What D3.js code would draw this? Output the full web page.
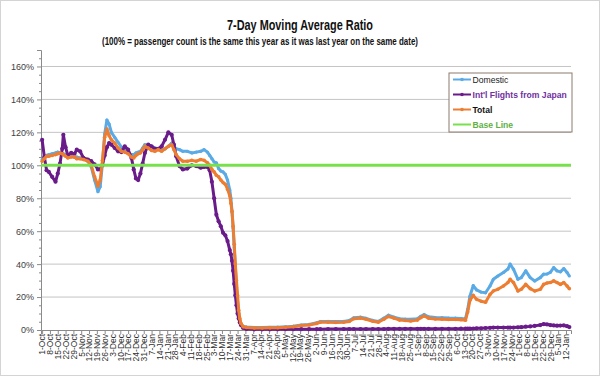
<!DOCTYPE html>
<html>
<head>
<meta charset="utf-8">
<script src="https://cdn.jsdelivr.net/npm/d3@7"></script>
<style>
  body { margin: 0; background: #fff; }
  svg { display: block; font-family: "Liberation Sans", Arial, sans-serif; }
</style>
</head>
<body>
<svg id="chart" width="600" height="376"></svg>
<script>
// sample dates (denser where the curves move a lot)
const dates = [
  "2019-10-01","2019-10-03","2019-10-05","2019-10-07","2019-10-10","2019-10-13","2019-10-15","2019-10-17","2019-10-19","2019-10-20",
  "2019-10-22","2019-10-24","2019-10-27","2019-10-30","2019-11-01","2019-11-04","2019-11-07","2019-11-11","2019-11-14","2019-11-17",
  "2019-11-20","2019-11-22","2019-11-24","2019-11-26","2019-11-28","2019-11-30","2019-12-02","2019-12-05","2019-12-08","2019-12-11",
  "2019-12-14","2019-12-17","2019-12-20","2019-12-22","2019-12-24","2019-12-26","2019-12-28","2019-12-30","2020-01-01","2020-01-04",
  "2020-01-07","2020-01-10","2020-01-13","2020-01-16","2020-01-19","2020-01-22","2020-01-25","2020-01-27","2020-01-29","2020-02-01",
  "2020-02-04","2020-02-08","2020-02-12","2020-02-16","2020-02-20","2020-02-23","2020-02-26","2020-02-28","2020-03-01","2020-03-03",
  "2020-03-05","2020-03-07","2020-03-09","2020-03-11","2020-03-13","2020-03-15","2020-03-17","2020-03-18","2020-03-19","2020-03-20",
  "2020-03-21","2020-03-22","2020-03-23","2020-03-24","2020-03-25","2020-03-26","2020-03-27","2020-03-29","2020-04-01","2020-04-08",
  "2020-04-15","2020-04-22","2020-04-29","2020-05-06","2020-05-13","2020-05-20","2020-05-27","2020-06-03","2020-06-06","2020-06-13",
  "2020-06-20","2020-06-27","2020-07-02","2020-07-06","2020-07-12","2020-07-17","2020-07-23","2020-07-28","2020-08-02","2020-08-06",
  "2020-08-11","2020-08-16","2020-08-21","2020-08-26","2020-09-01","2020-09-04","2020-09-07","2020-09-11","2020-09-17","2020-09-23",
  "2020-09-29","2020-10-05","2020-10-10","2020-10-14","2020-10-16","2020-10-18","2020-10-21","2020-10-24","2020-10-28","2020-11-01",
  "2020-11-05","2020-11-08","2020-11-12","2020-11-17","2020-11-21","2020-11-23","2020-11-26","2020-11-30","2020-12-03","2020-12-07",
  "2020-12-11","2020-12-15","2020-12-20","2020-12-23","2020-12-26","2020-12-29","2021-01-01","2021-01-04","2021-01-07","2021-01-10",
  "2021-01-13","2021-01-15"
];

const domestic = [
  103.5,105,106,106.5,107,107.5,108,107.5,107,107,
  106.5,106,105.5,105,105,104.5,104,102.5,99,91,
  84,87,101,119,127.5,125,120,117,114,111,
  109.5,107.5,106.5,106.5,107.5,108,108.5,110.5,112.5,112,
  111.5,110.5,110,109.5,110,111.5,113.5,111.5,110,109.5,
  108.5,108.5,107.5,108,108.5,109.5,108,106,104,102,
  101.5,98,96.5,96,94.5,91,85,80,72,62,
  50,38,26,17,10,6,3.5,2.2,1.8,1.5,
  1.5,1.6,1.7,1.9,2.3,3,3.4,4.4,5.1,5.2,
  5.1,5.2,5.8,7.4,7.8,7.1,5.8,5.2,7.2,9,
  7.8,6.8,6.6,6.5,6.8,8.3,9.4,8,7.6,7.5,
  7.3,7.2,7,6.7,12.5,20.5,27,24.3,23,22.6,
  26.7,30.8,32.8,34.9,37,40,36.9,30.8,31.8,35.9,
  31.8,29.8,31.8,33.9,34,35,37.9,35.9,35.3,37.3,
  34.9,32.8
];

const intl = [
  115.5,105,97,96,93,90,95,101,110,118.5,
  111,106,107.5,107,109.5,108.5,104.5,103.5,102.5,100.5,
  97.5,97.5,100,106,111,113.5,112.5,110.5,108.5,108,
  111.5,109.5,104.5,97.5,92,91,95,101,107.5,112.5,
  111.5,110,110,111.5,115.5,120,118.5,112.5,105.5,99.5,
  97.5,98,100,99.5,98.5,99,99,97,90,80,
  70,66,63,59,57.5,54,48.5,46,42,36,
  28,21,15,10,7,4.5,3,1.2,0.6,0.4,
  0.4,0.4,0.4,0.5,0.5,0.5,0.5,0.5,0.5,0.6,
  0.6,0.6,0.6,0.6,0.6,0.6,0.6,0.6,0.6,0.7,
  0.7,0.7,0.7,0.7,0.7,0.7,0.7,0.7,0.7,0.7,
  0.7,0.7,0.8,0.8,0.8,0.8,0.9,1,1,1.2,
  1.3,1.5,1.5,1.5,1.5,1.5,1.5,1.6,1.7,2,
  2.2,2.5,3,3.6,3.4,3,2.8,2.6,2.7,2.8,
  2.3,1.8
];

const total = [
  102.4,104,105.5,105.5,106,106.5,107,107.5,107,106.5,
  105.5,104.5,105,105,104,104,103.5,102.5,100,93,
  87.5,91,103,117,122,118,115.5,113.5,110.5,108.5,
  108,107,105,104.5,106,107,107.5,109.5,111.5,110.5,
  109,108.5,109.5,108.5,110,111.5,112.5,109.5,106.5,104,
  102.5,102.5,103,102.5,103.5,103,101.5,100,97.5,96,
  94,93,91,89.5,88.5,85.5,81.5,77,72,63,
  52,40,30,21,12,7,4,2,1.5,1.2,
  1.2,1.3,1.4,1.6,2,2.7,3,4,4.7,4.7,
  4.6,4.7,5.2,6.8,7.2,6.5,5.3,4.7,6.5,8.2,
  7.2,6,5.8,5.5,6,7.5,8.5,7.2,6.7,6.6,
  6.4,6.4,6.2,5.9,11,18,21,18.6,17.5,16.9,
  21.6,23.7,24.7,26.7,28.8,30.8,28.8,23.7,24.7,27.7,
  25.1,23.7,24.7,27.7,28.5,28.8,29.8,28.8,27.7,28.8,
  26.7,25.1
];

const baseLine = 100;
const yTicks = [0, 20, 40, 60, 80, 100, 120, 140, 160];
const seriesNames = ["Domestic", "Int'l Flights from Japan", "Total", "Base Line"];
const seriesColors = ["#5aaae6", "#6a1b8a", "#ed7d31", "#77e14c"];
const legendTextColors = ["#1a1a1a", "#7030a0", "#111", "#5fb043"];

const svg = d3.select("#chart");
const parse = d3.timeParse("%Y-%m-%d");
const xDates = dates.map(parse);

// outer frame
svg.append("rect")
  .attr("x", 0.5).attr("y", 0.5)
  .attr("width", 599).attr("height", 375)
  .attr("fill", "#fff")
  .attr("stroke", "#d4d4d4");

const x = d3.scaleTime()
  .domain([new Date(2019, 8, 30), new Date(2021, 0, 16, 12)])
  .range([41, 571]);

const y = d3.scaleLinear()
  .domain([0, 170])
  .range([330, 50]);

// titles
svg.append("text")
  .attr("x", 300).attr("y", 30)
  .attr("text-anchor", "middle")
  .attr("font-size", 14).attr("font-weight", "bold")
  .attr("fill", "#111")
  .attr("textLength", 146).attr("lengthAdjust", "spacingAndGlyphs")
  .text("7-Day Moving Average Ratio");

svg.append("text")
  .attr("x", 260).attr("y", 45)
  .attr("text-anchor", "middle")
  .attr("font-size", 10).attr("font-weight", "bold")
  .attr("fill", "#111")
  .attr("textLength", 316).attr("lengthAdjust", "spacingAndGlyphs")
  .text("(100% = passenger count  is the same this year as it was last year on the same date)");

// gridlines
svg.append("g")
  .selectAll("line")
  .data(yTicks.filter(d => d > 0))
  .join("line")
  .attr("x1", 41).attr("x2", 571)
  .attr("y1", d => y(d)).attr("y2", d => y(d))
  .attr("stroke", "#c4c4c4")
  .attr("stroke-width", 1);

// y axis
const yAxis = svg.append("g")
  .attr("transform", "translate(41,0)")
  .call(d3.axisLeft(y).tickValues(yTicks).tickSize(4).tickFormat(d => d + "%"));
yAxis.select(".domain").attr("stroke", "#8a8a8a");
yAxis.selectAll(".tick line").attr("stroke", "#8a8a8a");
yAxis.selectAll("text").attr("font-size", 9).attr("fill", "#404040").attr("x", -7);

const yMinor = svg.append("g")
  .attr("transform", "translate(41,0)")
  .call(d3.axisLeft(y).tickValues(d3.range(5, 171, 5).filter(d => d % 20 !== 0)).tickSize(2).tickFormat(""));
yMinor.select(".domain").remove();
yMinor.selectAll(".tick line").attr("stroke", "#8a8a8a");

// x axis with weekly tick labels
const weekTicks = d3.timeTuesday.range(new Date(2019, 9, 1), new Date(2021, 0, 13));
const xAxis = svg.append("g")
  .attr("transform", "translate(0,330)")
  .call(d3.axisBottom(x).tickValues(weekTicks).tickSize(4).tickFormat(d3.timeFormat("%-d-%b")));
xAxis.select(".domain").attr("stroke", "#8a8a8a");
xAxis.selectAll(".tick line").attr("stroke", "#8a8a8a");
xAxis.selectAll("text")
  .attr("font-size", 8.5)
  .attr("fill", "#303030")
  .attr("x", -4).attr("y", 0).attr("dy", "0.33em")
  .attr("transform", "rotate(-90)")
  .style("text-anchor", "end");

// series
const line = d3.line()
  .x((d, i) => x(xDates[i]))
  .y(d => y(d));

const seriesData = [
  { values: domestic, color: seriesColors[0], width: 3, r: 1.6 },
  { values: intl, color: seriesColors[1], width: 3, r: 2.1 },
  { values: total, color: seriesColors[2], width: 3, r: 1.8 }
];

seriesData.forEach(s => {
  svg.append("path")
    .datum(s.values)
    .attr("d", line)
    .attr("fill", "none")
    .attr("stroke", s.color)
    .attr("stroke-width", s.width)
    .attr("stroke-linejoin", "round");

  svg.append("g")
    .selectAll("circle")
    .data(s.values)
    .join("circle")
    .attr("cx", (d, i) => x(xDates[i]))
    .attr("cy", d => y(d))
    .attr("r", s.r)
    .attr("fill", s.color);
});

// base line at 100%
svg.append("line")
  .attr("x1", x(xDates[0]) - 1).attr("x2", 571)
  .attr("y1", y(baseLine)).attr("y2", y(baseLine))
  .attr("stroke", seriesColors[3])
  .attr("stroke-width", 3);

// legend
const legend = svg.append("g").attr("transform", "translate(449,73)");
legend.append("rect")
  .attr("width", 123).attr("height", 59)
  .attr("fill", "#fff")
  .attr("stroke", "#8e7a6e");

seriesNames.forEach((name, i) => {
  const ly = 6.5 + i * 15;
  legend.append("line")
    .attr("x1", 4).attr("x2", 22)
    .attr("y1", ly).attr("y2", ly)
    .attr("stroke", seriesColors[i])
    .attr("stroke-width", 2);
  if (i < 3) {
    legend.append("circle")
      .attr("cx", 13).attr("cy", ly).attr("r", 1.8)
      .attr("fill", seriesColors[i]);
  }
  legend.append("text")
    .attr("x", 23.5).attr("y", ly + 3.2)
    .attr("font-size", 8.6)
    .attr("font-weight", i === 0 ? "normal" : "bold")
    .attr("fill", legendTextColors[i])
    .text(name);
});
</script>
</body>
</html>
